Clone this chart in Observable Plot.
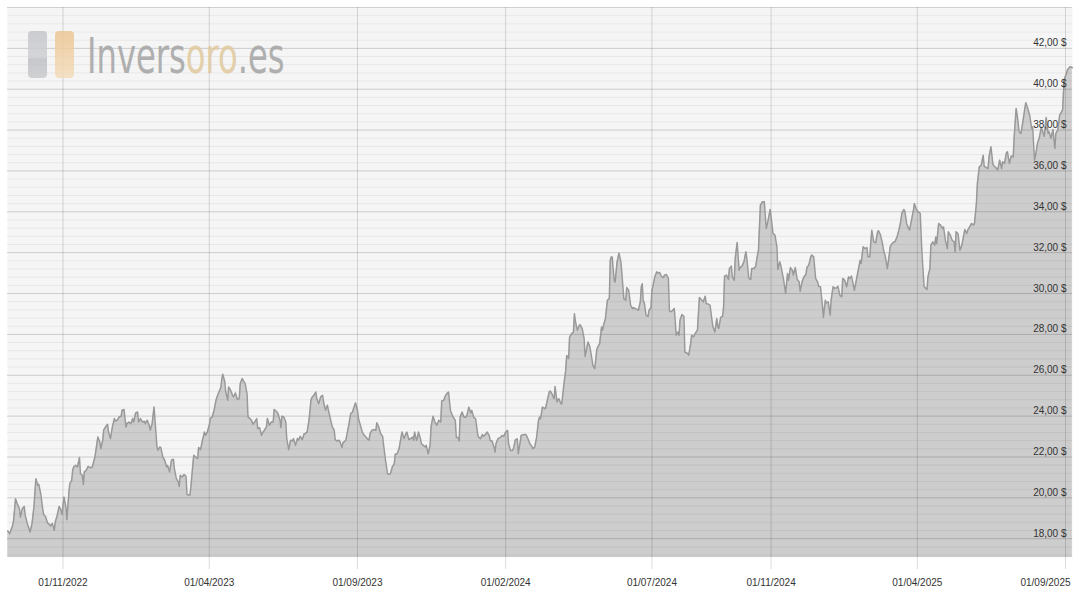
<!DOCTYPE html>
<html>
<head>
<meta charset="utf-8">
<script src="https://cdn.jsdelivr.net/npm/d3@7"></script>
<script src="https://cdn.jsdelivr.net/npm/@observablehq/plot@0.6"></script>
<style>
html,body{margin:0;padding:0;background:#fff;}
#wrap{position:relative;width:1082px;height:601px;overflow:hidden;font-family:"Liberation Sans",Arial,Helvetica,sans-serif;}
#logo{position:absolute;left:0;top:0;pointer-events:none;overflow:visible;}
</style>
</head>
<body>
<div id="wrap">
<div id="chart"></div>
<svg id="logo" width="420" height="90">
  <defs>
    <linearGradient id="gGray" x1="0" y1="0" x2="0" y2="1">
      <stop offset="0" stop-color="#c4c5c9"/>
      <stop offset="0.55" stop-color="#cfd0d3"/>
      <stop offset="0.6" stop-color="#bfc0c4"/>
      <stop offset="1" stop-color="#c9cacd"/>
    </linearGradient>
    <linearGradient id="gGold" x1="0" y1="0" x2="0" y2="1">
      <stop offset="0" stop-color="#ecc693"/>
      <stop offset="0.55" stop-color="#f0d2a8"/>
      <stop offset="1" stop-color="#f3dcbb"/>
    </linearGradient>
  </defs>
  <rect x="28" y="31" width="19" height="47" rx="4" fill="url(#gGray)" opacity="0.85"/>
  <rect x="55" y="31" width="19" height="47" rx="4" fill="url(#gGold)" opacity="0.85"/>
  <g id="logoTextG" transform="translate(87,73)">
    <text id="logoText" x="0" y="0" font-size="50" font-family="'Liberation Sans Narrow','DejaVu Sans Condensed','Liberation Sans',sans-serif" opacity="0.9"><tspan fill="#a8a8a8">Invers</tspan><tspan fill="#e2cba2">oro</tspan><tspan fill="#a8a8a8">.es</tspan></text>
  </g>
</svg>
</div>
<script>
// Day offsets from 01/11/2022 and silver price (USD)
const baseDate = Date.UTC(2022, 10, 1);
const dayOffsets = [
-57,-55,-52,-51,-49,-47,-45,-44,-42,-40,-39,-37,-34,-32,-30,-28,-26,-25,-23,-21,
-20,-18,-16,-14,-13,-11,-9,-8,-6,-4,-2,-1,1,3,4,6,7,9,10,11,
13,15,17,18,20,21,22,24,26,28,30,33,35,36,38,39,41,42,44,46,
47,49,51,53,54,56,58,60,61,63,65,66,68,70,72,73,75,77,78,80,
82,84,85,87,89,90,92,94,95,97,98,100,101,103,105,107,108,110,112,114,
115,117,119,120,121,123,125,127,128,131,132,134,135,137,139,140,142,144,146,147,
149,151,152,154,156,158,159,161,163,
164,165,167,168,170,171,173,175,176,178,180,182,183,185,187,188,190,191,193,195,
196,198,200,201,203,205,206,208,210,211,213,215,217,218,220,222,224,225,226,228,
230,231,233,235,237,238,240,242,243,245,247,249,250,252,254,256,257,259,261,262,
264,266,268,269,271,273,274,276,278,280,281,283,285,286,288,289,292,293,295,297,
299,300,302,304,305,307,309,311,312,314,316,317,319,321,323,324,326,328,330,331,
333,335,336,338,340,342,343,345,347,348,350,352,354,355,357,359,361,362,363,365,
366,367,369,370,372,374,375,377,379,380,382,384,386,388,390,
391,393,395,397,398,400,402,404,405,406,408,409,410,412,414,416,417,419,421,422,
424,426,428,429,431,433,434,436,438,440,441,443,445,446,447,449,452,453,455,457,
459,460,462,464,465,467,469,470,472,473,476,478,480,482,484,485,487,489,491,492,
493,495,496,498,500,502,503,505,507,508,510,511,512,514,515,517,519,520,522,523,
525,527,528,529,531,533,534,536,538,539,540,542,544,546,547,549,551,552,554,556,
557,558,560,562,564,565,566,567,569,570,572,574,576,577,579,581,582,584,586,588,
589,591,593,594,596,597,598,599,600,602,604,605,607,
608,609,611,613,614,616,618,620,621,623,625,626,627,629,631,632,633,635,636,637,
639,641,642,644,645,646,648,649,651,653,655,656,657,659,661,663,664,666,668,670,
671,673,675,676,677,679,681,682,683,685,687,688,690,691,693,694,696,698,699,701,
703,705,706,708,710,711,713,715,717,718,720,722,724,725,726,728,730,731,733,735,
737,738,740,741,743,744,746,748,749,751,753,754,756,758,760,761,763,765,767,768,
770,772,773,775,777,779,780,782,784,785,787,788,790,792,793,795,797,799,800,802,
804,805,807,809,811,812,814,816,817,819,821,823,824,826,828,
830,831,833,834,835,837,839,841,842,844,846,847,849,851,853,854,856,858,859,861,
863,865,866,868,869,871,873,874,876,878,879,881,883,885,886,887,889,890,892,893,
895,896,898,900,901,902,904,906,908,909,911,913,914,916,918,920,921,922,924,926,
928,929,931,933,934,936,938,940,941,943,944,946,948,950,951,953,955,956,958,960,
962,963,965,967,969,970,972,974,975,977,979,981,982,984,986,987,989,991,993,994,
996,998,1000,1001,1003,1005,1006,1008,1010,1012,1013,1015,1017,1018,1020,1022,1024,1025,1027,1029,
1031,1032,1033,1034,1036,1037,1039,1040,1042
];
const prices = [
18.38,18.25,18.65,18.90,19.96,19.68,19.47,19.06,19.47,19.58,19.14,18.77,18.33,18.74,19.55,20.94,20.61,20.66,20.20,19.47,
19.19,19.09,18.77,18.70,18.62,18.74,18.41,18.82,19.14,19.58,19.39,19.19,20.04,19.55,18.93,20.20,20.69,20.86,21.35,21.51,
21.59,21.51,21.97,21.18,21.10,20.66,21.27,21.35,21.54,21.48,21.48,22.00,22.65,22.98,22.74,22.41,22.82,23.31,23.47,23.60,
23.22,22.90,23.47,23.88,23.76,23.80,23.96,23.99,24.29,24.32,23.47,23.63,23.71,23.63,23.88,23.71,24.16,24.20,23.71,23.88,
23.71,23.75,23.63,23.80,23.55,23.31,23.63,24.45,23.80,22.49,22.33,22.49,22.46,22.00,21.84,21.51,21.59,21.27,21.84,21.89,
21.43,20.94,20.78,20.56,21.10,21.02,21.14,21.05,20.16,20.12,20.53,21.59,22.08,22.00,21.92,22.46,22.36,22.82,23.22,23.06,
23.22,23.55,23.88,23.96,24.29,24.78,24.94,25.18,25.40,
25.84,26.05,25.67,25.18,24.78,25.43,25.27,25.02,24.94,25.13,24.81,24.86,25.59,25.84,25.67,25.59,25.10,23.96,23.88,23.76,
23.60,23.71,23.88,23.39,23.44,23.06,23.18,23.31,23.47,23.88,23.55,23.71,23.71,24.32,24.25,24.12,23.80,23.44,23.99,23.96,
23.71,22.90,22.36,22.82,22.78,22.90,22.57,22.90,22.82,23.01,22.85,23.14,23.14,23.22,23.80,24.78,24.91,25.02,25.18,24.86,
24.61,24.94,25.02,24.69,24.29,24.53,24.29,23.88,23.47,23.31,22.85,22.78,22.82,22.74,22.46,22.69,22.82,23.06,23.55,24.12,
24.20,24.37,24.65,24.29,23.88,23.55,23.22,23.06,23.01,22.90,22.82,23.14,23.31,23.34,23.31,23.67,23.47,23.14,23.01,22.57,
21.84,21.18,21.15,21.18,21.51,21.67,22.13,22.16,22.41,22.69,23.22,22.90,23.14,23.22,22.85,22.90,22.98,22.82,23.22,22.82,
22.95,23.22,22.90,22.65,22.57,22.49,22.57,22.16,22.57,23.47,23.99,23.71,23.55,23.80,23.71,
24.74,24.77,25.01,25.13,25.18,24.28,24.03,23.87,23.79,22.97,22.94,22.78,23.95,24.20,23.95,23.95,24.03,24.44,24.15,24.28,
23.95,23.87,23.14,22.97,22.89,23.10,23.01,23.10,23.22,23.05,22.81,22.78,22.48,22.24,22.65,22.89,22.97,23.05,23.01,23.22,
23.30,22.65,22.32,22.32,22.40,22.84,22.89,22.16,22.73,23.05,23.10,23.10,22.89,22.65,22.52,22.40,22.48,22.97,23.82,23.95,
23.87,24.44,24.41,24.36,24.77,25.19,25.23,25.06,24.85,25.45,24.69,24.80,24.85,24.61,24.61,25.50,26.24,26.97,26.81,27.87,
28.03,28.11,29.01,28.65,28.20,28.44,28.47,28.28,27.79,26.92,27.14,27.63,27.38,26.81,26.48,26.32,27.22,27.38,27.54,28.36,
28.20,28.44,28.77,29.67,29.75,31.62,31.79,31.79,30.65,30.56,31.54,31.98,31.54,30.97,29.75,29.67,30.29,30.16,29.42,29.26,
29.31,29.26,29.21,29.18,29.58,30.32,30.48,29.63,29.58,28.93,28.88,29.18,29.31,
30.16,30.36,30.82,31.06,31.01,31.03,30.82,30.78,30.90,30.93,30.74,29.18,29.10,29.15,29.27,28.69,27.96,28.12,27.96,28.69,
28.97,28.89,27.14,27.09,27.06,26.98,27.55,27.96,27.88,28.07,28.20,29.02,29.80,29.71,29.59,29.87,29.51,29.48,29.43,28.69,
28.37,28.12,28.78,28.37,28.29,28.83,28.89,29.35,30.85,30.90,30.69,31.22,31.34,30.82,30.65,31.71,32.50,31.14,31.27,31.34,
31.55,32.04,31.71,30.74,30.69,31.22,31.22,31.31,31.88,32.12,34.33,34.49,34.49,33.84,33.18,33.59,34.11,33.76,32.94,32.86,
32.29,31.18,31.55,31.39,30.90,30.65,30.00,30.98,30.65,31.27,31.14,30.90,31.27,30.69,30.57,30.11,30.57,30.82,30.93,31.27,
31.39,31.80,31.88,31.80,30.74,30.57,30.36,30.33,29.43,28.83,29.67,29.54,29.59,28.94,29.67,30.33,30.25,30.29,30.36,29.92,
29.84,30.74,30.65,30.33,30.82,30.74,30.85,30.41,30.16,30.65,31.14,31.63,31.47,32.29,32.20,
32.25,31.80,31.80,32.53,33.10,32.53,32.48,33.02,33.07,32.86,32.45,32.15,31.80,31.22,31.88,32.29,32.45,32.53,32.53,32.77,
33.10,33.56,33.92,34.11,34.05,33.43,33.18,33.10,33.59,34.08,34.41,34.11,34.00,33.92,32.77,31.80,30.33,30.29,30.20,30.82,
31.22,32.37,32.53,32.37,32.77,32.45,33.43,33.35,33.18,33.26,32.61,32.20,33.02,32.86,32.61,32.53,32.04,33.02,32.94,32.12,
32.37,32.61,33.13,32.94,33.10,33.26,33.43,33.35,33.43,34.41,35.39,36.20,36.28,36.77,36.23,36.17,36.12,36.69,37.18,36.33,
36.20,36.17,36.04,36.53,36.12,36.45,36.37,36.89,36.94,36.37,36.73,36.69,37.67,39.06,38.41,37.92,37.84,38.41,39.06,39.34,
39.06,38.73,38.08,38.16,36.53,37.02,37.35,37.64,38.13,37.84,37.70,38.62,37.84,37.92,37.59,38.03,37.10,37.84,38.00,38.73,
38.90,38.98,39.96,40.53,40.78,40.94,41.07,41.10,41.05
];

const xTickDates = ["2022-11-01","2023-04-01","2023-09-01","2024-02-01","2024-07-01","2024-11-01","2025-04-01","2025-09-01"];
const xTickLabels = ["01/11/2022","01/04/2023","01/09/2023","01/02/2024","01/07/2024","01/11/2024","01/04/2025","01/09/2025"];
const yTickValues = [18,20,22,24,26,28,30,32,34,36,38,40,42];
const yTickLabels = ["18,00 $","20,00 $","22,00 $","24,00 $","26,00 $","28,00 $","30,00 $","32,00 $","34,00 $","36,00 $","38,00 $","40,00 $","42,00 $"];
const yMajorGrid = [18,20,22,24,26,28,30,32,34,36,38,40,42,44];
const yDomain = [17.08, 44];

const DAY = 864e5;
const n = Math.min(dayOffsets.length, prices.length);
const data = d3.range(n).map(i => ({date: new Date(baseDate + dayOffsets[i] * DAY), price: prices[i]}));
const xTicks = xTickDates.map(s => new Date(s + "T00:00:00Z"));
const xTickObjs = xTicks.map((d, i) => ({date: d, label: xTickLabels[i]}));
const yTickObjs = yTickValues.map((v, i) => ({v, label: yTickLabels[i]}));
const yMinorGrid = d3.range(17.2, 44.0, 0.4).filter(v => Math.abs(v / 2 - Math.round(v / 2)) > 0.05);

const chart = Plot.plot({
  width: 1082,
  height: 601,
  marginLeft: 7,
  marginRight: 10,
  marginTop: 7,
  marginBottom: 44,
  x: {type: "utc", domain: [new Date(baseDate - 57.3 * DAY), new Date(baseDate + 1042.2 * DAY)], axis: null},
  y: {domain: yDomain, axis: null},
  style: {fontFamily: "'Liberation Sans', Arial, Helvetica, sans-serif", fontSize: "10px", background: "transparent", overflow: "visible"},
  marks: [
    Plot.frame({fill: "#f5f5f5", stroke: "none"}),
    Plot.areaY(data, {x: "date", y1: yDomain[0], y2: "price", fill: "#cdcdcd", curve: "linear"}),
    Plot.ruleY(yMinorGrid, {stroke: "#000", strokeOpacity: 0.055, strokeWidth: 1}),
    Plot.ruleY(yMajorGrid, {stroke: "#000", strokeOpacity: 0.17, strokeWidth: 1}),
    Plot.ruleX(xTicks, {stroke: "#000", strokeOpacity: 0.14, strokeWidth: 1, insetBottom: -12}),
    Plot.lineY(data, {x: "date", y: "price", stroke: "#999", strokeWidth: 1.5, curve: "linear"}),
    Plot.text(yTickObjs, {y: "v", text: "label", frameAnchor: "right", textAnchor: "end", lineAnchor: "bottom", dx: -6, dy: -2, fill: "#333", fontSize: 10}),
    Plot.text(xTickObjs.slice(0, -1), {x: "date", text: "label", frameAnchor: "bottom", lineAnchor: "top", dy: 21, fill: "#333", fontSize: 10}),
    Plot.text(xTickObjs.slice(-1), {x: "date", text: "label", frameAnchor: "bottom", textAnchor: "end", lineAnchor: "top", dy: 21, dx: 5, fill: "#333", fontSize: 10})
  ]
});
document.getElementById("chart").appendChild(chart);

// Fit the watermark text to its width in the reference (about 197 px)
const logoText = document.getElementById("logoText");
const natural = logoText.getComputedTextLength();
if (natural > 0) {
  document.getElementById("logoTextG").setAttribute("transform", `translate(87,73) scale(${(197 / natural).toFixed(4)},1)`);
}
</script>
</body>
</html>
